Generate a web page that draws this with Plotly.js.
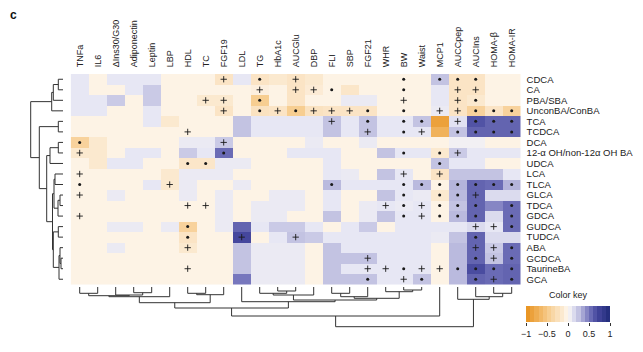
<!DOCTYPE html>
<html><head><meta charset="utf-8">
<script src="https://cdn.plot.ly/plotly-3.0.1.min.js"></script>
<style>html,body{margin:0;padding:0;background:#fff}#chart{width:643px;height:352px}</style>
</head><body><div id="chart"></div>
<script>
const colLabels = ["TNFa","IL6","\u0394Ins30/G30","Adiponectin","Leptin","LBP","HDL","TC","FGF19","LDL","TG","HbA1c","AUCGlu","DBP","FLI","SBP","FGF21","WHR","BW","Waist","MCP1","AUCCpep","AUCIns","HOMA-\u03b2","HOMA-IR"];
const rowLabels = ["CDCA","CA","PBA/SBA","UnconBA/ConBA","TCA","TCDCA","DCA","12-\u03b1 OH/non-12\u03b1 OH BA","UDCA","LCA","TLCA","GLCA","TDCA","GDCA","GUDCA","TUDCA","ABA","GCDCA","TaurineBA","GCA"];

const corr = [
 [0.1,-0.05,0.1,0.1,0.1,-0.05,-0.05,-0.05,-0.2,0.1,-0.2,-0.15,-0.2,-0.15,-0.05,-0.05,-0.05,-0.05,-0.05,-0.05,0.25,-0.2,-0.2,-0.05,-0.05],
 [0.1,-0.05,-0.05,0.1,0.22,-0.05,-0.05,-0.05,-0.05,-0.05,-0.08,-0.05,-0.2,-0.12,-0.05,-0.18,-0.05,-0.05,-0.05,-0.05,0.1,-0.2,-0.2,-0.05,-0.05],
 [0.1,0.1,0.22,-0.05,0.22,-0.05,-0.05,-0.15,-0.15,-0.05,-0.45,-0.05,-0.2,-0.05,-0.05,0.08,0.08,-0.05,-0.05,-0.05,0.1,-0.2,-0.15,-0.05,-0.05],
 [0.1,0.1,-0.05,-0.05,0.1,-0.05,-0.05,-0.05,-0.2,-0.05,-0.22,-0.2,-0.45,-0.22,-0.2,-0.2,-0.2,-0.05,-0.05,-0.05,0.08,-0.2,-0.4,-0.2,-0.4],
 [-0.05,-0.05,-0.05,-0.05,0.1,-0.15,-0.05,-0.05,-0.05,0.25,0.1,0.1,0.1,0.1,0.25,0.1,0.25,0.1,0.1,0.25,-0.85,0.12,0.65,0.58,0.58],
 [-0.05,-0.05,-0.05,-0.05,-0.05,-0.05,-0.05,-0.05,-0.05,0.25,0.1,0.1,0.1,0.1,0.25,0.1,0.25,0.1,0.1,0.1,-0.7,0.25,0.58,0.58,0.58],
 [-0.4,-0.15,-0.05,-0.05,-0.05,-0.05,0.08,0.08,0.22,-0.05,-0.05,-0.05,-0.05,0.08,-0.05,-0.05,0.08,-0.05,-0.05,-0.05,-0.05,0.05,0.05,-0.05,-0.05],
 [-0.15,-0.15,-0.05,0.1,0.1,-0.05,0.22,0.1,0.55,-0.05,-0.05,-0.05,0.1,0.1,0.1,-0.05,-0.05,0.25,0.1,0.1,-0.15,0.22,0.1,0.1,0.1],
 [-0.05,-0.15,0.1,0.1,-0.05,-0.05,-0.18,-0.18,0.08,0.08,-0.05,-0.05,-0.05,-0.05,0.1,-0.05,-0.05,-0.05,-0.05,-0.05,0.25,0.1,0.1,-0.05,-0.05],
 [-0.05,-0.05,-0.05,-0.05,-0.05,-0.15,0.08,0.08,0.08,-0.05,-0.05,-0.05,-0.05,-0.05,0.1,0.08,-0.05,0.25,0.1,-0.05,-0.2,0.25,0.25,0.25,0.1],
 [-0.05,-0.05,-0.05,-0.05,0.1,-0.15,0.08,-0.05,-0.05,0.08,-0.05,-0.05,-0.05,-0.05,0.28,0.1,0.1,0.1,0.1,0.28,-0.05,0.3,0.58,0.55,0.3],
 [-0.05,-0.05,0.08,-0.05,-0.05,-0.05,0.08,-0.05,0.08,-0.05,-0.05,0.08,0.08,-0.05,0.1,-0.05,-0.05,0.25,0.1,0.08,-0.15,0.28,0.58,0.15,0.15],
 [-0.05,-0.05,-0.05,-0.05,-0.05,-0.05,-0.05,-0.05,0.08,-0.05,0.08,0.08,0.08,-0.05,0.1,-0.05,0.08,0.1,0.08,0.1,-0.05,0.25,0.58,0.45,0.55],
 [-0.05,-0.05,-0.05,-0.05,-0.05,-0.05,-0.05,-0.05,0.08,-0.05,0.08,0.08,-0.05,-0.05,0.25,-0.05,0.08,0.25,0.1,0.1,-0.05,0.28,0.58,0.15,0.55],
 [-0.05,-0.05,0.08,0.08,-0.05,0.08,-0.4,-0.05,0.08,0.58,0.1,0.22,0.22,0.1,-0.05,0.1,0.22,-0.05,0.1,0.1,0.1,0.1,0.15,0.1,0.55],
 [-0.05,-0.05,-0.05,-0.05,-0.05,-0.05,-0.2,-0.05,-0.05,0.7,-0.05,0.1,0.25,0.22,0.1,0.1,0.1,0.1,0.1,0.1,0.08,0.25,0.58,0.15,0.15],
 [-0.05,-0.05,0.08,-0.05,-0.05,-0.05,-0.15,-0.05,-0.05,0.25,0.08,0.08,0.08,-0.05,0.25,0.1,0.1,0.1,0.1,0.1,-0.05,0.28,0.58,0.22,0.55],
 [-0.05,-0.05,-0.05,-0.05,-0.05,-0.05,-0.05,-0.05,-0.05,0.25,0.08,0.08,0.08,-0.05,0.25,0.25,0.25,0.1,0.1,0.1,-0.05,0.28,0.58,0.25,0.55],
 [-0.05,-0.05,-0.05,-0.05,-0.05,-0.05,-0.05,-0.05,-0.05,0.25,0.08,0.08,0.08,-0.05,0.25,0.1,0.1,0.1,0.1,0.1,-0.05,0.28,0.68,0.55,0.58],
 [-0.05,-0.05,-0.05,-0.05,-0.05,-0.05,-0.05,-0.05,-0.05,0.5,0.08,0.08,0.08,-0.05,0.25,0.25,0.25,0.1,0.1,0.25,-0.05,0.28,0.58,0.55,0.58]
];

const starCols = [
 [10,18,20,21,22],[14,18],[10,22],[10,12,16,18,22,23,24],[16,18,19,22,23,24],
 [18,21,22,23,24],[0],[8,18,20],[6,7,20],[],
 [0,14,18,19,20,21,22,23,24],[18,20,21],[18,20,21,22,24],[18,20,21,22,24],[6,24],
 [6,22],[24],[22,24],[18,21,22,23,24],[16,19,22,24]
];
const plusCols = [
 [8,12],[10,12,13,21,22],[7,8,18,21],[8,11,13,14,15,20,21],[14,21],
 [6,16,19],[8],[0,21],[],[0,18,20],
 [5],[0,22],[6,7,17,19],[0,19],[22,23],
 [9,12],[6,22,23],[16,23],[6,16,17,19,20],[18,23]
];

// dendrogram merges: [left node, right node, height]; internal nodes numbered after leaves
const colMerges = [
 [0,1,6.3],[3,4,5.7],[2,26,8],[25,27,8.7],[28,5,9.7],
 [6,7,6.3],[30,8,7.7],[29,31,15.7],
 [11,12,4],[10,33,6.3],[34,13,8],
 [14,15,6.3],[36,16,9.7],[18,19,3],[17,38,4.7],[37,39,11.3],
 [35,40,13],[9,41,14.7],[32,42,21],[43,20,29],
 [23,24,6.3],[22,45,9.7],[21,46,12.3],[44,47,39.7]
];
const rowMerges = [
 [0,1,4.7],[20,2,9.7],[21,3,11.3],
 [4,5,4.7],
 [6,7,4.7],[24,8,13],
 [9,10,8],[11,12,3],[27,13,5],[26,28,9],
 [14,15,4.7],[17,18,2],[16,31,3],[32,19,4],[30,33,9.7],
 [29,34,10.5],[25,35,16.3],[23,36,23.7],[22,37,32.3]
];

const keyValues = [-0.95,-0.85,-0.75,-0.65,-0.55,-0.45,-0.35,-0.25,-0.15,-0.05,0.05,0.15,0.25,0.35,0.45,0.55,0.65,0.75,0.85,0.95];
const keyTicks = [-1,-0.5,0,0.5,1];
const keyTickText = ["\u22121","\u22120.5","0","0.5","1"];

const colorScale = [
 [0,'#E8901A'],[0.25,'#F6C987'],[0.45,'#FCEDD9'],[0.5,'#FDF8F1'],
 [0.55,'#E7E7F4'],[0.625,'#C3C3E2'],[0.75,'#7777BD'],[0.85,'#45479D'],[1,'#1E2A78']
];

function dendroLines(merges, n){
  const pos=[], hgt=[];
  for(let i=0;i<n;i++){pos.push(i);hgt.push(0);}
  const a=[], b=[];
  merges.forEach(function(m){
    const l=m[0], r=m[1], h=m[2];
    a.push(pos[l],pos[l],pos[r],pos[r],null);
    b.push(hgt[l],h,h,hgt[r],null);
    pos.push((pos[l]+pos[r])/2); hgt.push(h);
  });
  return {a:a,b:b};
}

const nC = colLabels.length, nR = rowLabels.length;
const colIdx = colLabels.map((_,i)=>i), rowIdx = rowLabels.map((_,i)=>i);

const sx=[], sy=[], px=[], py=[];
starCols.forEach((cols,r)=>cols.forEach(c=>{sx.push(c);sy.push(r);}));
plusCols.forEach((cols,r)=>cols.forEach(c=>{px.push(c);py.push(r);}));

const cd = dendroLines(colMerges, nC);
const rd = dendroLines(rowMerges, nR);

const W=643, H=352;
const fx = p=>p/W, fy = p=>1-p/H;

const traces = [
 {type:'heatmap', x:colIdx, y:rowIdx, z:corr, colorscale:colorScale, zmin:-1, zmax:1, showscale:false, hoverinfo:'skip', xaxis:'x', yaxis:'y'},
 {type:'scatter', mode:'markers', x:sx, y:sy, xaxis:'x', yaxis:'y', hoverinfo:'skip',
  marker:{symbol:'circle', size:3, color:'#1a1a1a'}},
 {type:'scatter', mode:'markers', x:px, y:py, xaxis:'x', yaxis:'y', hoverinfo:'skip',
  marker:{symbol:'cross-thin-open', size:4.5, color:'#1a1a1a', line:{width:0.9, color:'#1a1a1a'}}},
 {type:'scatter', mode:'lines', x:cd.a, y:cd.b, xaxis:'x', yaxis:'y2', hoverinfo:'skip', connectgaps:false,
  line:{color:'#333', width:1}},
 {type:'scatter', mode:'lines', x:rd.b, y:rd.a, xaxis:'x3', yaxis:'y', hoverinfo:'skip', connectgaps:false,
  line:{color:'#333', width:1}},
 {type:'heatmap', x:keyValues, y:[0], z:[keyValues], colorscale:colorScale, zmin:-1, zmax:1, showscale:false, hoverinfo:'skip', xaxis:'x4', yaxis:'y4'}
];

const layout = {
 width:W, height:H, margin:{l:0,r:0,t:0,b:0}, paper_bgcolor:'#fff', plot_bgcolor:'rgba(0,0,0,0)', showlegend:false,
 font:{family:'Liberation Sans, Arial, sans-serif', size:9, color:'#222'},
 xaxis:{domain:[fx(70.7),fx(520.7)], range:[-0.5,24.5], side:'top', anchor:'y', tickmode:'array', tickvals:colIdx, ticktext:colLabels,
        tickangle:-90, ticks:'outside', ticklen:4, tickcolor:'rgba(0,0,0,0)', showgrid:false, zeroline:false, showline:false, fixedrange:true},
 yaxis:{domain:[fy(284.5),fy(74)], range:[19.5,-0.5], side:'right', anchor:'x', tickmode:'array', tickvals:rowIdx, ticktext:rowLabels,
        ticks:'outside', ticklen:3, tickcolor:'rgba(0,0,0,0)', showgrid:false, zeroline:false, showline:false, fixedrange:true, tickfont:{size:9.5}},
 yaxis2:{domain:[fy(331),fy(287)], range:[44,0], anchor:'x', visible:false, fixedrange:true},
 xaxis3:{domain:[fx(18),fx(65)], range:[45,-2], anchor:'y', visible:false, fixedrange:true},
 xaxis4:{domain:[fx(526),fx(610)], range:[-1,1], anchor:'y4', tickmode:'array', tickvals:keyTicks, ticktext:keyTickText,
         ticks:'outside', ticklen:3, tickcolor:'#333', showgrid:false, zeroline:false, showline:false, tickfont:{size:9}, fixedrange:true},
 yaxis4:{domain:[fy(322),fy(306)], range:[-0.5,0.5], anchor:'x4', visible:false, fixedrange:true},
 annotations:[
  {text:'<b>c</b>', x:fx(8), y:fy(6), xref:'paper', yref:'paper', xanchor:'left', yanchor:'top', showarrow:false, font:{size:12, color:'#111'}},
  {text:'Color key', x:fx(568), y:fy(302), xref:'paper', yref:'paper', xanchor:'center', yanchor:'bottom', showarrow:false, font:{size:9}}
 ]
};

Plotly.newPlot('chart', traces, layout, {displayModeBar:false, staticPlot:true});
</script></body></html>
